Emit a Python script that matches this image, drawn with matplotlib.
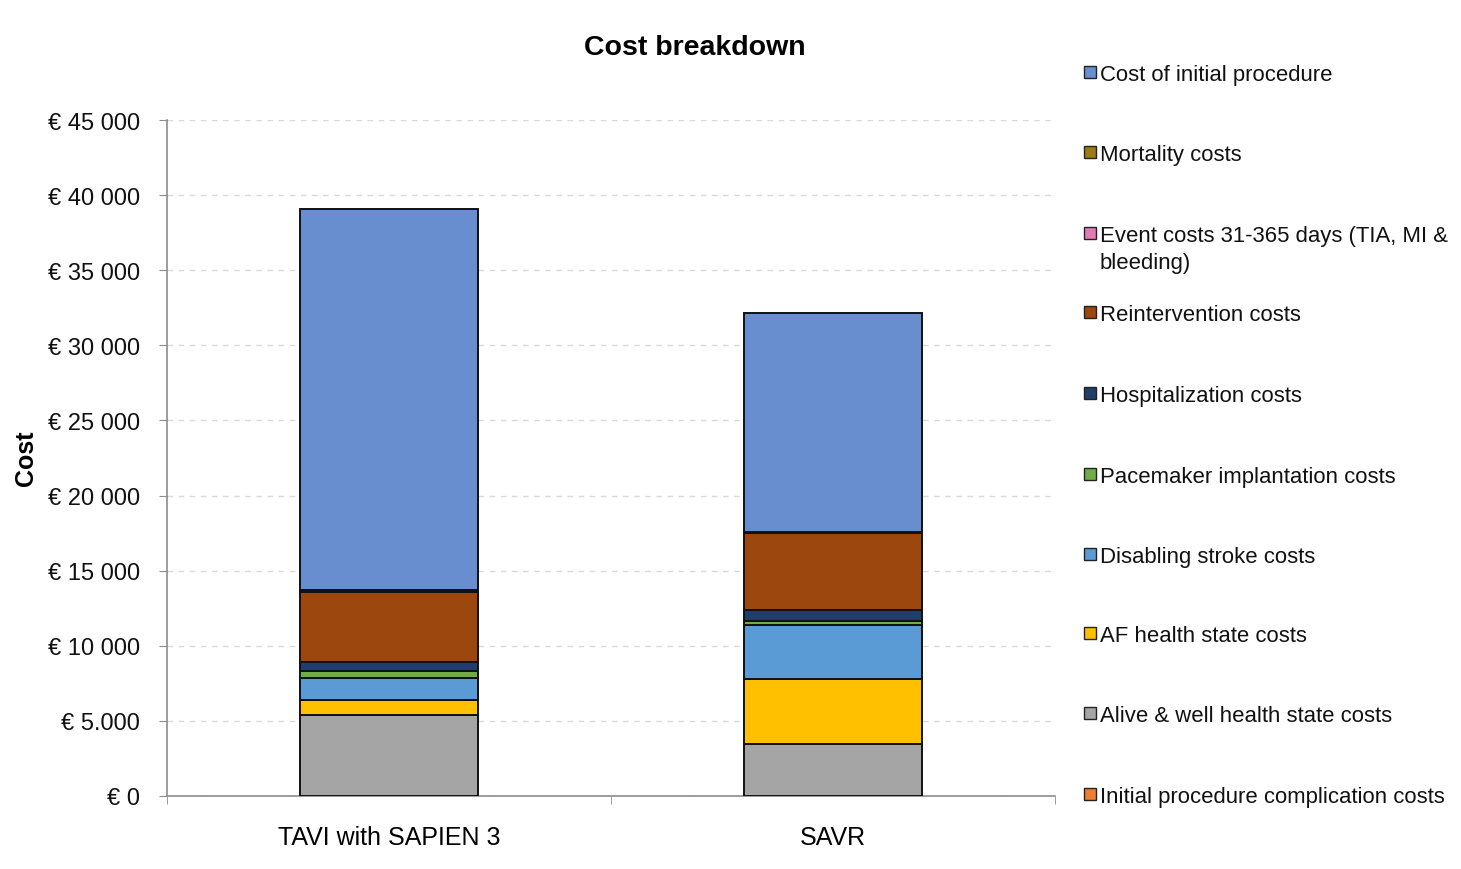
import matplotlib
matplotlib.use("Agg")
import matplotlib.pyplot as plt
from matplotlib.patches import Rectangle
import numpy as np

plt.rcParams['font.family'] = ['Liberation Sans', 'DejaVu Sans']

# ---- data ----
categories = ["TAVI with SAPIEN 3", "SAVR"]
series_names = [
    "Initial procedure complication costs",
    "Alive & well health state costs",
    "AF health state costs",
    "Disabling stroke costs",
    "Pacemaker implantation costs",
    "Hospitalization costs",
    "Reintervention costs",
    "Event costs 31-365 days (TIA, MI &\nbleeding)",
    "Mortality costs",
    "Cost of initial procedure",
]
complication = [0, 0]
alive_well = [5400, 3450]
af_state = [1000, 4330]
stroke = [1450, 3600]
pacemaker = [450, 250]
hospitalization = [600, 750]
reintervention = [4650, 5100]
event_costs = [50, 30]
mortality = [100, 80]
initial_procedure = [25400, 14570]
series_values = [complication, alive_well, af_state, stroke, pacemaker,
                 hospitalization, reintervention, event_costs, mortality,
                 initial_procedure]
ytick_values = [0, 5000, 10000, 15000, 20000, 25000, 30000, 35000, 40000, 45000]
ytick_labels = ["€ 0", "€ 5.000", "€ 10 000", "€ 15 000", "€ 20 000",
                "€ 25 000", "€ 30 000", "€ 35 000", "€ 40 000", "€ 45 000"]

colors = ["#ED7D31", "#A5A5A5", "#FFC000", "#5B9BD5", "#70AD47",
          "#213D6B", "#9C470E", "#E07BB5", "#9C7A14", "#698ECF"]

W, H = 1461, 870
fig = plt.figure(figsize=(W / 100, H / 100), dpi=100)
ax = fig.add_axes([167 / W, 1 - 797 / H, (1055 - 167) / W, (797 - 121) / H])

x = np.arange(len(categories))
bottom = np.zeros(len(categories))
for vals, col in zip(series_values, colors):
    v = np.array(vals, dtype=float)
    ax.bar(x, v, width=0.4, bottom=bottom, color=col, edgecolor="#111111",
           linewidth=1.4, zorder=3)
    bottom += v

ax.set_xlim(-0.5, 1.5)
ax.set_ylim(0, 45000)
ax.set_yticks(ytick_values)
ax.set_yticklabels(ytick_labels, fontsize=17, color="#111111")
ax.yaxis.grid(True, linestyle=(0, (4, 4)), color="#D9D9D9", linewidth=1.0, zorder=0)
ax.set_axisbelow(True)

ax.set_xticks(x)
ax.set_xticklabels(categories, fontsize=18)
ax.tick_params(axis="x", length=0, pad=21)
ax.set_xticks([-0.5, 0.5, 1.5], minor=True)
ax.tick_params(axis="x", which="minor", length=6, color="#8C8C8C", direction="out")
ax.tick_params(axis="y", length=6, color="#8C8C8C", direction="out", pad=13.5)

for s in ["top", "right"]:
    ax.spines[s].set_visible(False)
ax.spines["left"].set_color("#8C8C8C")
ax.spines["bottom"].set_color("#8C8C8C")
ax.spines["left"].set_linewidth(1.2)
ax.spines["bottom"].set_linewidth(1.2)

fig.text(26 / W, 1 - 458 / H, "Cost", rotation=90, fontsize=18, fontweight="bold",
         ha="center", va="center")
fig.text(695 / W, 1 - 48 / H, "Cost breakdown", fontsize=20.5, fontweight="bold",
         ha="center", va="center")

# ---- legend (Excel-style, top entry = last series) ----
legend_y = [73, 153, 234, 313, 394, 475, 555, 634, 714, 795]
for i, idx in enumerate(range(len(series_names) - 1, -1, -1)):
    yc = legend_y[i]
    rect = Rectangle((1084 / W, 1 - (yc + 6) / H), 12 / W, 12 / H,
                     transform=fig.transFigure, facecolor=colors[idx],
                     edgecolor="#222222", linewidth=1.0)
    fig.add_artist(rect)
    fig.text(1100 / W, 1 - (yc - 8) / H, series_names[idx], fontsize=15.9,
             ha="left", va="top", color="#111111", linespacing=1.4)

fig.savefig("out.png", dpi=100, facecolor="white")
